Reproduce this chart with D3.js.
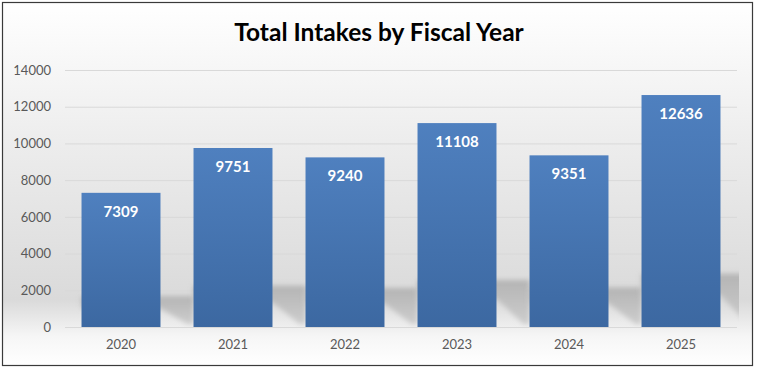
<!DOCTYPE html>
<html>
<head>
<meta charset="utf-8">
<script src="https://cdn.jsdelivr.net/npm/d3@7"></script>
<style>
  body { margin: 0; background: #fff; }
  svg { display: block; }
</style>
</head>
<body>
<script>
const W = 758, H = 369;

const years = ["2020", "2021", "2022", "2023", "2024", "2025"];
const intakes = [7309, 9751, 9240, 11108, 9351, 12636];
const yTicks = [0, 2000, 4000, 6000, 8000, 10000, 12000, 14000];
const title = "Total Intakes by Fiscal Year";

const m = {left: 65, right: 21, top: 70, bottom: 42};
const plotBottom = 327;

const svg = d3.select('body').append('svg')
  .attr('width', W)
  .attr('height', H);

const defs = svg.append('defs');

// chart area background gradient
const bg = defs.append('linearGradient')
  .attr('id', 'bg').attr('x1', 0).attr('y1', 0).attr('x2', 0).attr('y2', 1);
bg.append('stop').attr('offset', '0%').attr('stop-color', '#ffffff');
bg.append('stop').attr('offset', '40%').attr('stop-color', '#ececec');
bg.append('stop').attr('offset', '82%').attr('stop-color', '#dadada');
bg.append('stop').attr('offset', '92%').attr('stop-color', '#f6f6f6');
bg.append('stop').attr('offset', '100%').attr('stop-color', '#ffffff');

const barGrad = defs.append('linearGradient')
  .attr('id', 'barGrad').attr('x1', 0).attr('y1', 0).attr('x2', 0).attr('y2', 1);
barGrad.append('stop').attr('offset', '0%').attr('stop-color', '#4f80bf');
barGrad.append('stop').attr('offset', '100%').attr('stop-color', '#3c68a1');

const shadowGrad = defs.append('linearGradient')
  .attr('id', 'shGrad').attr('x1', 0).attr('y1', 0).attr('x2', 0).attr('y2', 1);
shadowGrad.append('stop').attr('offset', '0%').attr('stop-color', '#b4b4b4');
shadowGrad.append('stop').attr('offset', '100%').attr('stop-color', '#cdcdcd');

defs.append('filter').attr('id', 'blur')
  .attr('x', '-20%').attr('y', '-30%').attr('width', '140%').attr('height', '160%')
  .append('feGaussianBlur').attr('stdDeviation', 2.6);

defs.append('clipPath').attr('id', 'plotClip')
  .append('rect')
  .attr('x', m.left).attr('y', m.top)
  .attr('width', W - m.left - m.right + 2).attr('height', plotBottom - m.top);

svg.append('rect')
  .attr('x', 2.5).attr('y', 2.5)
  .attr('width', 750).attr('height', 363)
  .attr('fill', 'url(#bg)')
  .attr('stroke', '#3a3a3a')
  .attr('stroke-width', 1.2);

svg.append('text')
  .attr('x', 379).attr('y', 41)
  .attr('text-anchor', 'middle')
  .attr('font-family', 'Lato, "Open Sans", sans-serif')
  .attr('font-weight', 'bold')
  .attr('font-size', '24.5px')
  .attr('fill', '#000')
  .text(title);

const x = d3.scaleBand()
  .domain(years)
  .range([m.left, W - m.right])
  .paddingInner(0.295)
  .paddingOuter(0.1475);

const y = d3.scaleLinear()
  .domain([0, 14000])
  .range([plotBottom, m.top]);

// gridlines
const yAxis = d3.axisLeft(y)
  .tickValues(yTicks)
  .tickSize(-(W - m.left - m.right))
  .tickPadding(14)
  .tickFormat(d3.format('d'));

const gy = svg.append('g')
  .attr('transform', `translate(${m.left},0)`)
  .call(yAxis);
gy.select('.domain').remove();
gy.selectAll('.tick line').attr('stroke', '#d9d9d9').attr('stroke-width', 1);
gy.selectAll('.tick text')
  .attr('font-family', 'Lato, "Open Sans", sans-serif')
  .attr('font-size', '13px')
  .attr('fill', '#595959');

// shadows behind the bars
const sh = svg.append('g').attr('clip-path', 'url(#plotClip)');
sh.selectAll('path')
  .data(years)
  .enter()
  .append('path')
  .attr('filter', 'url(#blur)')
  .attr('fill', 'url(#shGrad)')
  .attr('d', (d, i) => {
    const x0 = x(d), x1 = x(d) + x.bandwidth();
    const hs = (y(0) - y(intakes[i])) * 0.23;
    const top = plotBottom - hs;
    const gap = x.step() - x.bandwidth();
    return `M${x0},${top}L${x1 + gap},${top}L${x1 + gap},${plotBottom - 3}` +
      `L${x1 + gap - 6},${plotBottom - 3}L${x1},${top + hs * 0.4}L${x0},${top + hs * 0.4}Z`;
  });

// bars
svg.selectAll('rect.bar')
  .data(years)
  .enter()
  .append('rect')
  .attr('class', 'bar')
  .attr('x', d => x(d))
  .attr('y', (d, i) => y(intakes[i]))
  .attr('width', x.bandwidth())
  .attr('height', (d, i) => y(0) - y(intakes[i]))
  .attr('fill', 'url(#barGrad)');

// value labels
svg.selectAll('text.val')
  .data(years)
  .enter()
  .append('text')
  .attr('class', 'val')
  .attr('x', d => x(d) + x.bandwidth() / 2)
  .attr('y', (d, i) => y(intakes[i]) + 24)
  .attr('text-anchor', 'middle')
  .attr('font-family', 'Lato, "Open Sans", sans-serif')
  .attr('font-weight', 'bold')
  .attr('font-size', '15px')
  .attr('fill', '#fff')
  .text((d, i) => intakes[i]);

// x axis labels
const gx = svg.append('g')
  .attr('transform', `translate(0,${plotBottom})`)
  .call(d3.axisBottom(x).tickSize(0).tickPadding(13));
gx.select('.domain').remove();
gx.selectAll('.tick text')
  .attr('font-family', 'Lato, "Open Sans", sans-serif')
  .attr('font-size', '13px')
  .attr('fill', '#595959');
</script>
</body>
</html>
